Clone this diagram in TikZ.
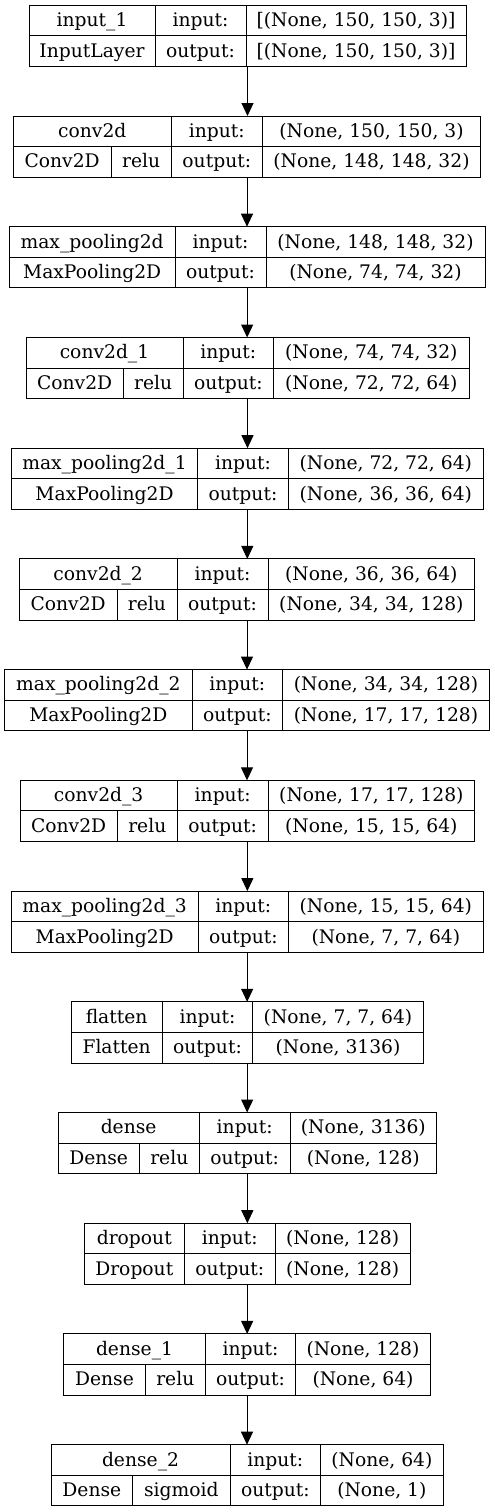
\documentclass[tikz,border=0pt]{standalone}
\usepackage{fontspec}
\setmainfont{DejaVu Serif}
\usepackage{tikz}
\usetikzlibrary{arrows.meta, fit}

\begin{document}
\begin{tikzpicture}[
    x=1pt, y=-1pt,
    cell/.style={rectangle, draw, line width=1pt, inner sep=0pt, outer sep=0pt,
        minimum height=30.6pt, anchor=north west, text height=14pt, text depth=2pt,
        font=\fontsize{18.7}{22}\selectfont},
    layer/.style={inner sep=0pt, outer sep=0pt},
    arrow/.style={-{Triangle[length=13pt, width=12pt]}, line width=1pt}
]
\useasboundingbox (0,0) rectangle (495,1512);

% input_1
\node[cell, minimum width=126pt] (L1name) at (29,5.3) {input\_1};
\node[cell, minimum width=91pt] (L1in) at (L1name.north east) {input:};
\node[cell, minimum width=220pt] (L1inshape) at (L1in.north east) {[(None, 150, 150, 3)]};
\node[cell, minimum width=126pt] (L1cls) at (L1name.south west) {InputLayer};
\node[cell, minimum width=91pt] (L1out) at (L1cls.north east) {output:};
\node[cell, minimum width=220pt] (L1outshape) at (L1out.north east) {[(None, 150, 150, 3)]};
\node[layer, fit=(L1name)(L1outshape)] (L1) {};

% conv2d
\node[cell, minimum width=158pt] (L2name) at (13.3,116.0) {conv2d};
\node[cell, minimum width=91pt] (L2in) at (L2name.north east) {input:};
\node[cell, minimum width=218.4pt] (L2inshape) at (L2in.north east) {(None, 150, 150, 3)};
\node[cell, minimum width=97.7pt] (L2cls) at (L2name.south west) {Conv2D};
\node[cell, minimum width=60.3pt] (L2act) at (L2cls.north east) {relu};
\node[cell, minimum width=91pt] (L2out) at (L2act.north east) {output:};
\node[cell, minimum width=218.4pt] (L2outshape) at (L2out.north east) {(None, 148, 148, 32)};
\node[layer, fit=(L2name)(L2outshape)] (L2) {};

% max_pooling2d
\node[cell, minimum width=165.7pt] (L3name) at (9.3,226.7) {max\_pooling2d};
\node[cell, minimum width=91pt] (L3in) at (L3name.north east) {input:};
\node[cell, minimum width=219pt] (L3inshape) at (L3in.north east) {(None, 148, 148, 32)};
\node[cell, minimum width=165.7pt] (L3cls) at (L3name.south west) {MaxPooling2D};
\node[cell, minimum width=91pt] (L3out) at (L3cls.north east) {output:};
\node[cell, minimum width=219pt] (L3outshape) at (L3out.north east) {(None, 74, 74, 32)};
\node[layer, fit=(L3name)(L3outshape)] (L3) {};

% conv2d_1
\node[cell, minimum width=157pt] (L4name) at (26,337.5) {conv2d\_1};
\node[cell, minimum width=90.7pt] (L4in) at (L4name.north east) {input:};
\node[cell, minimum width=195.3pt] (L4inshape) at (L4in.north east) {(None, 74, 74, 32)};
\node[cell, minimum width=97.3pt] (L4cls) at (L4name.south west) {Conv2D};
\node[cell, minimum width=59.7pt] (L4act) at (L4cls.north east) {relu};
\node[cell, minimum width=90.7pt] (L4out) at (L4act.north east) {output:};
\node[cell, minimum width=195.3pt] (L4outshape) at (L4out.north east) {(None, 72, 72, 64)};
\node[layer, fit=(L4name)(L4outshape)] (L4) {};

% max_pooling2d_1
\node[cell, minimum width=186.4pt] (L5name) at (11.3,448.2) {max\_pooling2d\_1};
\node[cell, minimum width=90.6pt] (L5in) at (L5name.north east) {input:};
\node[cell, minimum width=195pt] (L5inshape) at (L5in.north east) {(None, 72, 72, 64)};
\node[cell, minimum width=186.4pt] (L5cls) at (L5name.south west) {MaxPooling2D};
\node[cell, minimum width=90.6pt] (L5out) at (L5cls.north east) {output:};
\node[cell, minimum width=195pt] (L5outshape) at (L5out.north east) {(None, 36, 36, 64)};
\node[layer, fit=(L5name)(L5outshape)] (L5) {};

% conv2d_2
\node[cell, minimum width=157.7pt] (L6name) at (19.3,558.9) {conv2d\_2};
\node[cell, minimum width=91pt] (L6in) at (L6name.north east) {input:};
\node[cell, minimum width=206.7pt] (L6inshape) at (L6in.north east) {(None, 36, 36, 64)};
\node[cell, minimum width=97.7pt] (L6cls) at (L6name.south west) {Conv2D};
\node[cell, minimum width=60pt] (L6act) at (L6cls.north east) {relu};
\node[cell, minimum width=91pt] (L6out) at (L6act.north east) {output:};
\node[cell, minimum width=206.7pt] (L6outshape) at (L6out.north east) {(None, 34, 34, 128)};
\node[layer, fit=(L6name)(L6outshape)] (L6) {};

% max_pooling2d_2
\node[cell, minimum width=187.3pt] (L7name) at (4.7,669.6) {max\_pooling2d\_2};
\node[cell, minimum width=90.7pt] (L7in) at (L7name.north east) {input:};
\node[cell, minimum width=206.6pt] (L7inshape) at (L7in.north east) {(None, 34, 34, 128)};
\node[cell, minimum width=187.3pt] (L7cls) at (L7name.south west) {MaxPooling2D};
\node[cell, minimum width=90.7pt] (L7out) at (L7cls.north east) {output:};
\node[cell, minimum width=206.6pt] (L7outshape) at (L7out.north east) {(None, 17, 17, 128)};
\node[layer, fit=(L7name)(L7outshape)] (L7) {};

% conv2d_3
\node[cell, minimum width=157.3pt] (L8name) at (20,780.3) {conv2d\_3};
\node[cell, minimum width=90.7pt] (L8in) at (L8name.north east) {input:};
\node[cell, minimum width=206.7pt] (L8inshape) at (L8in.north east) {(None, 17, 17, 128)};
\node[cell, minimum width=97.3pt] (L8cls) at (L8name.south west) {Conv2D};
\node[cell, minimum width=60pt] (L8act) at (L8cls.north east) {relu};
\node[cell, minimum width=90.7pt] (L8out) at (L8act.north east) {output:};
\node[cell, minimum width=206.7pt] (L8outshape) at (L8out.north east) {(None, 15, 15, 64)};
\node[layer, fit=(L8name)(L8outshape)] (L8) {};

% max_pooling2d_3
\node[cell, minimum width=186.7pt] (L9name) at (11.3,891.1) {max\_pooling2d\_3};
\node[cell, minimum width=90.7pt] (L9in) at (L9name.north east) {input:};
\node[cell, minimum width=194.3pt] (L9inshape) at (L9in.north east) {(None, 15, 15, 64)};
\node[cell, minimum width=186.7pt] (L9cls) at (L9name.south west) {MaxPooling2D};
\node[cell, minimum width=90.7pt] (L9out) at (L9cls.north east) {output:};
\node[cell, minimum width=194.3pt] (L9outshape) at (L9out.north east) {(None, 7, 7, 64)};
\node[layer, fit=(L9name)(L9outshape)] (L9) {};

% flatten
\node[cell, minimum width=91.3pt] (L10name) at (71,1001.8) {flatten};
\node[cell, minimum width=90.4pt] (L10in) at (L10name.north east) {input:};
\node[cell, minimum width=170.6pt] (L10inshape) at (L10in.north east) {(None, 7, 7, 64)};
\node[cell, minimum width=91.3pt] (L10cls) at (L10name.south west) {Flatten};
\node[cell, minimum width=90.4pt] (L10out) at (L10cls.north east) {output:};
\node[cell, minimum width=170.6pt] (L10outshape) at (L10out.north east) {(None, 3136)};
\node[layer, fit=(L10name)(L10outshape)] (L10) {};

% dense
\node[cell, minimum width=141.3pt] (L11name) at (58,1112.5) {dense};
\node[cell, minimum width=90.7pt] (L11in) at (L11name.north east) {input:};
\node[cell, minimum width=146.7pt] (L11inshape) at (L11in.north east) {(None, 3136)};
\node[cell, minimum width=81.3pt] (L11cls) at (L11name.south west) {Dense};
\node[cell, minimum width=60pt] (L11act) at (L11cls.north east) {relu};
\node[cell, minimum width=90.7pt] (L11out) at (L11act.north east) {output:};
\node[cell, minimum width=146.7pt] (L11outshape) at (L11out.north east) {(None, 128)};
\node[layer, fit=(L11name)(L11outshape)] (L11) {};

% dropout
\node[cell, minimum width=100pt] (L12name) at (84.3,1223.2) {dropout};
\node[cell, minimum width=91pt] (L12in) at (L12name.north east) {input:};
\node[cell, minimum width=134.7pt] (L12inshape) at (L12in.north east) {(None, 128)};
\node[cell, minimum width=100pt] (L12cls) at (L12name.south west) {Dropout};
\node[cell, minimum width=91pt] (L12out) at (L12cls.north east) {output:};
\node[cell, minimum width=134.7pt] (L12outshape) at (L12out.north east) {(None, 128)};
\node[layer, fit=(L12name)(L12outshape)] (L12) {};

% dense_1
\node[cell, minimum width=141.6pt] (L13name) at (63.7,1333.9) {dense\_1};
\node[cell, minimum width=90.4pt] (L13in) at (L13name.north east) {input:};
\node[cell, minimum width=134.6pt] (L13inshape) at (L13in.north east) {(None, 128)};
\node[cell, minimum width=81.6pt] (L13cls) at (L13name.south west) {Dense};
\node[cell, minimum width=60pt] (L13act) at (L13cls.north east) {relu};
\node[cell, minimum width=90.4pt] (L13out) at (L13act.north east) {output:};
\node[cell, minimum width=134.6pt] (L13outshape) at (L13out.north east) {(None, 64)};
\node[layer, fit=(L13name)(L13outshape)] (L13) {};

% dense_2
\node[cell, minimum width=179pt] (L14name) at (51,1444.7) {dense\_2};
\node[cell, minimum width=90.7pt] (L14in) at (L14name.north east) {input:};
\node[cell, minimum width=122.3pt] (L14inshape) at (L14in.north east) {(None, 64)};
\node[cell, minimum width=81.7pt] (L14cls) at (L14name.south west) {Dense};
\node[cell, minimum width=97.3pt] (L14act) at (L14cls.north east) {sigmoid};
\node[cell, minimum width=90.7pt] (L14out) at (L14act.north east) {output:};
\node[cell, minimum width=122.3pt] (L14outshape) at (L14out.north east) {(None, 1)};
\node[layer, fit=(L14name)(L14outshape)] (L14) {};

% Arrows between layers
\foreach \a/\b in {1/2, 2/3, 3/4, 4/5, 5/6, 6/7, 7/8, 8/9, 9/10, 10/11, 11/12, 12/13, 13/14}
    \draw[arrow] (L\a.south) -- (L\a.south |- L\b.north);

\end{tikzpicture}
\end{document}
